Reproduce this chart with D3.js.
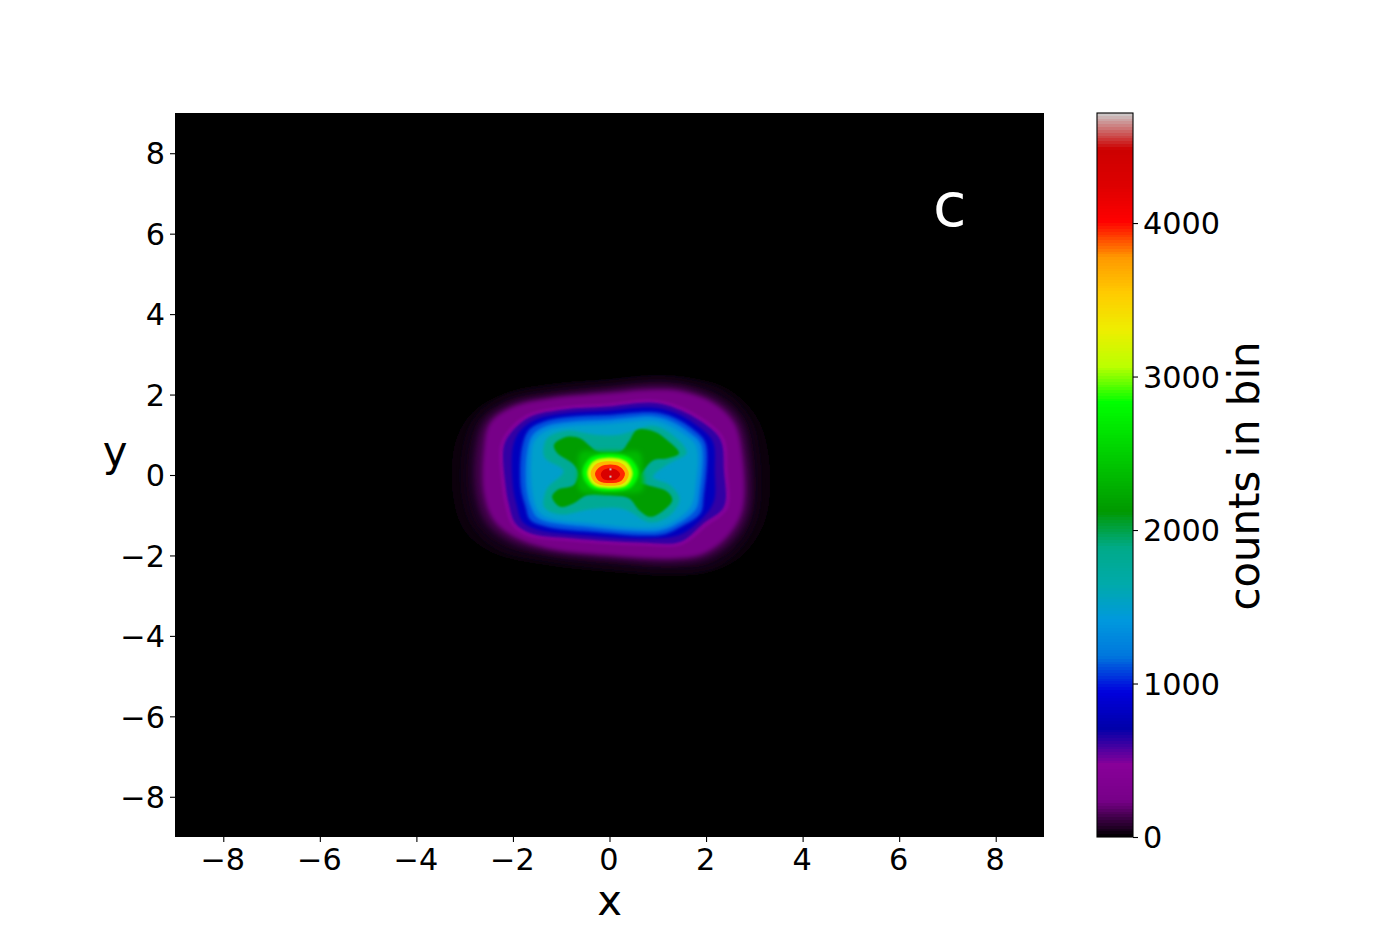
<!DOCTYPE html>
<html><head><meta charset="utf-8">
<style>html,body{margin:0;background:#fff}svg{display:block}text{font-family:"DejaVu Sans",sans-serif;fill:#000}</style>
<script src="https://cdn.jsdelivr.net/npm/d3@7"></script></head><body>
<script>
// Chart content
const xTicks=[-8,-6,-4,-2,0,2,4,6,8];
const yTicks=[-8,-6,-4,-2,0,2,4,6,8];
const colorbarTicks=[0,1000,2000,3000,4000];
const xExtent=[-9,9], yExtent=[-9,9], countExtent=[0,4717];
// nipy_spectral stops
const cmapStops=[0,.05,.1,.15,.2,.25,.3,.35,.4,.45,.5,.55,.6,.65,.7,.75,.8,.85,.9,.95,1];
const cmapColors=["#000000","#770088","#880099","#0000aa","#0000dd","#0077dd","#0099dd","#00aaaa","#00aa88","#009900","#00bb00","#00dd00","#00ff00","#bbff00","#eeee00","#ffcc00","#ff9900","#ff0000","#dd0000","#cc0000","#cccccc"];
// iso-count outlines: [x, y] in data units
const ring40=[[.9,2.5],[0,2.4],[-1.2,2.28],[-2.15,2.05],[-2.85,1.55],[-3.2,.8],[-3.25,-.5],[-3,-1.4],[-2.4,-1.95],[-1.3,-2.25],[0,-2.42],[1.3,-2.52],[2.15,-2.4],[2.8,-1.95],[3.25,-1.05],[3.3,.5],[3.05,1.45],[2.45,2.15],[1.6,2.45]];
const ring90=[[.9,2.38],[0,2.28],[-1.2,2.14],[-2.1,1.93],[-2.72,1.45],[-2.97,.72],[-3,-.5],[-2.77,-1.3],[-2.25,-1.82],[-1.3,-2.08],[0,-2.27],[1.3,-2.37],[2.1,-2.27],[2.67,-1.8],[3.02,-1],[3.05,.5],[2.86,1.4],[2.35,2.02],[1.52,2.33]];
const ring150=[[.9,2.25],[0,2.15],[-1.2,2.0],[-2.03,1.8],[-2.58,1.36],[-2.77,.67],[-2.77,-.48],[-2.55,-1.2],[-2.08,-1.65],[-1.3,-1.93],[0,-2.1],[1.3,-2.2],[2.02,-2.07],[2.55,-1.63],[2.88,-.92],[2.88,.47],[2.7,1.35],[2.25,1.87],[1.5,2.2]];
const ring236=[[.92,2.12],[-.05,2.03],[-1.22,1.9],[-1.98,1.7],[-2.47,1.29],[-2.6,.62],[-2.6,-.46],[-2.4,-1.12],[-1.98,-1.53],[-1.29,-1.82],[-.05,-1.99],[1.33,-2.07],[1.95,-1.95],[2.44,-1.53],[2.75,-.87],[2.75,.46],[2.58,1.29],[2.16,1.78],[1.47,2.08]];
const ring480=[[.85,1.88],[-.05,1.78],[-.95,1.71],[-1.68,1.52],[-2.09,1.13],[-2.27,.72],[-2.23,-.3],[-2.17,-.73],[-2.02,-1.26],[-1.68,-1.53],[-.74,-1.66],[.64,-1.76],[1.5,-1.74],[2.02,-1.27],[2.45,-.83],[2.45,.12],[2.38,.9],[2,1.36],[1.36,1.76]];
const ring620=[[.85,1.8],[-.05,1.7],[-.95,1.63],[-1.64,1.45],[-2.02,1.08],[-2.19,.7],[-2.15,-.29],[-2.09,-.7],[-1.95,-1.2],[-1.64,-1.45],[-.74,-1.58],[.64,-1.68],[1.47,-1.66],[1.95,-1.2],[2.37,-.79],[2.37,.12],[2.3,.87],[1.95,1.29],[1.33,1.68]];
const ring800=[[.88,1.68],[-.05,1.6],[-.88,1.54],[-1.5,1.39],[-1.85,1.1],[-2,.7],[-2,-.29],[-1.92,-.75],[-1.8,-1.16],[-1.46,-1.37],[-.55,-1.5],[.85,-1.58],[1.47,-1.48],[1.92,-1.08],[2.16,-.66],[2.18,.1],[2.14,.83],[1.85,1.2],[1.33,1.56]];
const ring1100=[[.92,1.56],[-.05,1.49],[-.81,1.45],[-1.36,1.33],[-1.67,1.12],[-1.81,.7],[-1.84,-.29],[-1.74,-.79],[-1.64,-1.12],[-1.29,-1.29],[-.39,-1.41],[1.06,-1.49],[1.47,-1.29],[1.88,-.96],[1.95,-.54],[1.99,.79],[1.75,1.12],[1.33,1.43]];
const ring1300=[[.9,1.46],[0,1.38],[-.8,1.33],[-1.33,1.21],[-1.6,.98],[-1.71,.55],[-1.72,-.35],[-1.62,-.82],[-1.47,-1.08],[-.4,-1.3],[1.03,-1.39],[1.43,-1.2],[1.79,-.85],[1.87,-.42],[1.9,.75],[1.65,1.06],[1.27,1.34]];
const ring1500=[[.9,1.35],[0,1.27],[-.8,1.22],[-1.3,1.1],[-1.55,.85],[-1.62,.4],[-1.6,-.4],[-1.5,-.85],[-1.3,-1.05],[-.4,-1.2],[1,-1.3],[1.4,-1.1],[1.7,-.75],[1.78,-.3],[1.8,.7],[1.55,1],[1.2,1.25]];
const ring1800=[[.92,1.22],[.2,1],[-.3,1],[-.9,1.1],[-1.3,.9],[-1.35,.45],[-.95,.1],[-1.3,-.35],[-1.35,-.8],[-1,-.98],[-.4,-.85],[.3,-.85],[.85,-1.18],[1.25,-1],[1.45,-.6],[1.25,-.25],[.9,-.05],[1.25,.3],[1.6,.55],[1.35,.95]];
const ring2050=[[.57,1.12],[.92,1.08],[1.19,.87],[1.44,.54],[1.19,.41],[.92,.37],[.71,.12],[.57,-.17],[.78,-.25],[1.19,-.41],[1.3,-.62],[1.13,-.87],[.85,-1.04],[.61,-.87],[.4,-.58],[-.05,-.5],[-.46,-.5],[-.74,-.7],[-1.02,-.79],[-1.19,-.54],[-1.08,-.37],[-.74,-.25],[-.64,.04],[-.77,.29],[-1.08,.54],[-1.15,.75],[-.88,.95],[-.6,.91],[-.39,.7],[-.26,.58],[.23,.58],[.4,.83]];
const ring2400=[[.62,.56],[.68,.1],[.68,-.38],[.3,-.46],[-.25,-.46],[-.62,-.38],[-.64,.1],[-.6,.56],[-.2,.58],[.25,.58]];
const ring2830=[[.42,.42],[.6,.06],[.45,-.3],[.05,-.4],[-.4,-.3],[-.56,.06],[-.4,.42],[.02,.52]];
const ring3200=[[.34,.34],[.48,.05],[.36,-.25],[.03,-.33],[-.33,-.25],[-.46,.05],[-.33,.34],[.02,.43]];
const ring3650=[[.28,.27],[.4,.04],[.3,-.2],[.03,-.27],[-.28,-.2],[-.39,.04],[-.28,.27],[.02,.34]];
const ring3950=[[.22,.2],[.32,.04],[.24,-.15],[.02,-.2],[-.22,-.15],[-.3,.04],[-.2,.2],[.02,.26]];
const ring4300=[[.14,.13],[.22,.02],[.15,-.1],[.02,-.13],[-.13,-.1],[-.18,.02],[-.12,.13],[.02,.17]];
const isoLevels=[15,50,130,240,480,620,800,1100,1300,1500,1800,2150,2350,2830,3200,3650,3950,4300];
const isoBlur=[4,4,3,2,1,1,1.5,1.5,1.5,1.5,1.5,1,2.5,1.5,1,.7,.7,.5];
const isoRings=[ring40,ring90,ring150,ring236,ring480,ring620,ring800,ring1100,ring1300,ring1500,ring1800,ring2050,ring2400,ring2830,ring3200,ring3650,ring3950,ring4300];
const peakX=[.02,.02], peakY=[.14,-.04], peakCounts=[4700,4700];

const W=1400,H=941,L=175,R=1044,T=113,B=837,CL=1097,CR=1133;
const svg=d3.select("body").append("svg").attr("width",W).attr("height",H);
const x=d3.scaleLinear().domain(xExtent).range([L,R]);
const y=d3.scaleLinear().domain(yExtent).range([B,T]);
const cb=d3.scaleLinear().domain(countExtent).range([B,T]);
const cmap=d3.scaleLinear().domain(cmapStops).range(cmapColors).interpolate(d3.interpolateRgb);
const color=v=>cmap(v/countExtent[1]);

const defs=svg.append("defs");
isoBlur.forEach((s,i)=>{
  defs.append("filter").attr("id","b"+i).attr("x","-30%").attr("y","-30%").attr("width","160%").attr("height","160%")
    .append("feGaussianBlur").attr("stdDeviation",s);
});

svg.append("rect").attr("x",L).attr("y",T).attr("width",R-L).attr("height",B-T).attr("fill",color(0));
const line=d3.line().x(d=>x(d[0])).y(d=>y(d[1])).curve(d3.curveCatmullRomClosed.alpha(.5));
svg.append("g").selectAll("path").data(isoRings).join("path")
  .attr("d",line).attr("fill",(d,i)=>color(isoLevels[i])).attr("filter",(d,i)=>`url(#b${i})`);
svg.append("g").selectAll("rect").data(peakCounts).join("rect")
  .attr("x",(d,i)=>x(peakX[i])-1).attr("y",(d,i)=>y(peakY[i])-1).attr("width",2).attr("height",2).attr("fill",d=>color(d));

const fs=30.3;
function style(g){
  g.select(".domain").remove();
  g.selectAll(".tick line").attr("stroke","#000").attr("stroke-width",1.1);
  g.selectAll("text").style("font-size",fs+"px").style("font-family",'"DejaVu Sans"');
}
svg.append("g").attr("transform",`translate(0,${B})`).call(d3.axisBottom(x).tickValues(xTicks).tickFormat(d3.format("d")).tickSize(5).tickPadding(6)).call(style)
  .selectAll("text").attr("dx",-1);
svg.append("g").attr("transform",`translate(${L},0)`).call(d3.axisLeft(y).tickValues(yTicks).tickFormat(d3.format("d")).tickSize(5).tickPadding(5)).call(style)
  .selectAll("text").attr("y",1);
svg.selectAll("g").filter(function(){return false;});

// colorbar
const cbSteps=d3.range(256);
svg.append("g").attr("shape-rendering","crispEdges").selectAll("rect").data(cbSteps).join("rect")
  .attr("x",CL).attr("width",CR-CL)
  .attr("y",d=>Math.round(cb((d+1)/256*countExtent[1])))
  .attr("height",d=>Math.round(cb(d/256*countExtent[1]))-Math.round(cb((d+1)/256*countExtent[1])))
  .attr("fill",d=>cmap((d+.5)/256));
svg.append("rect").attr("x",CL).attr("y",T).attr("width",CR-CL).attr("height",B-T).attr("fill","none").attr("stroke","#000").attr("stroke-width",1.1);
svg.append("g").attr("transform",`translate(${CR},0)`).call(d3.axisRight(cb).tickValues(colorbarTicks).tickFormat(d3.format("d")).tickSize(5).tickPadding(5)).call(style)
  .selectAll("text").attr("y",1).attr("x",10);

svg.append("text").attr("x",x(0)).attr("y",915).attr("text-anchor","middle").style("font-size","41.8px").text("x");
svg.append("text").attr("x",115).attr("y",466).attr("text-anchor","middle").style("font-size","41.8px").text("y");
svg.append("text").attr("transform","translate(1259,476) rotate(-90)").attr("text-anchor","middle").style("font-size","41.8px").text("counts in bin");
svg.append("text").attr("x",x(7.05)).attr("y",y(6.2)).attr("text-anchor","middle").style("font-size","61px").style("fill","#fff").text("c");
</script></body></html>
